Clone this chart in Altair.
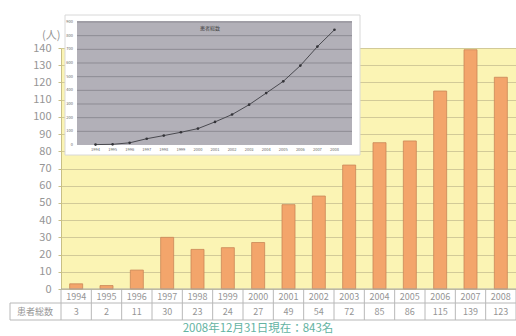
import altair as alt
import pandas as pd

years = ["1994", "1995", "1996", "1997", "1998", "1999", "2000", "2001",
         "2002", "2003", "2004", "2005", "2006", "2007", "2008"]
patients = [3, 2, 11, 30, 23, 24, 27, 49, 54, 72, 85, 86, 115, 139, 123]
cumulative = [3, 5, 16, 46, 69, 93, 120, 169, 223, 295, 380, 466, 581, 720, 843]
main_ticks = list(range(0, 141, 10))
inset_ticks = list(range(0, 901, 100))
inset_grid = list(range(100, 901, 100))
row_label = "患者総数"
inset_title = "患者総数"
caption = "2008年12月31日現在：843名"

FONT = "Noto Sans CJK JP"
TXT = "#959595"
LINE = "#b8b8b8"

df = pd.DataFrame({"year": years, "patients": patients})
dfi = pd.DataFrame({"year": years, "total": cumulative})
ticks_i = pd.DataFrame({"v": inset_ticks})
grid_i = pd.DataFrame({"v": inset_grid})
one = pd.DataFrame({"k": [0]})

# ---------------- main chart ----------------
xm = alt.X("year:N", scale=alt.Scale(paddingInner=0, paddingOuter=0), axis=None)
ym = alt.Y(
    "patients:Q",
    scale=alt.Scale(domain=[0, 140], nice=False),
    axis=alt.Axis(
        values=main_ticks, title="(人)", titleAngle=0, titleX=-1, titleY=-13,
        titleAlign="right", titleBaseline="middle", titleFontSize=11,
        titleColor=TXT, titleFontWeight="normal", titleFont=FONT,
        labelFontSize=11, labelColor=TXT, labelFont=FONT, labelPadding=7,
        tickSize=3, tickColor="#c8bf85", domainColor="#c8bf85",
        grid=True, gridColor="#d2ca98", gridWidth=1,
    ),
)

bars = alt.Chart(df).mark_bar(
    size=13, color="#f3a56b", stroke="#c98657", strokeWidth=0.8
).encode(x=xm, y=ym)

year_txt = alt.Chart(df).mark_text(fontSize=9, color=TXT, font=FONT).encode(
    x=alt.X("year:N"), y=alt.value(248.5), text="year:N")
val_txt = alt.Chart(df).mark_text(fontSize=9, color=TXT, font=FONT).encode(
    x=alt.X("year:N"), y=alt.value(264), text="patients:Q")

vsep = alt.Chart(df).mark_rule(color=LINE, strokeWidth=1).encode(
    x=alt.X("year:N", bandPosition=0), y=alt.value(241), y2=alt.value(272))
vend = alt.Chart(one).mark_rule(color=LINE).encode(
    x=alt.value(455), y=alt.value(241), y2=alt.value(272))
vleft = alt.Chart(one).mark_rule(color=LINE).encode(
    x=alt.value(-51), y=alt.value(255), y2=alt.value(272))
h0 = alt.Chart(one).mark_rule(color="#a9a9a9").encode(
    x=alt.value(0), x2=alt.value(455), y=alt.value(241))
h1 = alt.Chart(one).mark_rule(color=LINE).encode(
    x=alt.value(-51), x2=alt.value(455), y=alt.value(255))
h2 = alt.Chart(one).mark_rule(color=LINE).encode(
    x=alt.value(-51), x2=alt.value(455), y=alt.value(272))
lab = alt.Chart(one).mark_text(fontSize=9, color=TXT, font=FONT).encode(
    x=alt.value(-26), y=alt.value(264), text=alt.value(row_label))
cap = alt.Chart(one).mark_text(fontSize=11.5, color="#63b3a2", font=FONT).encode(
    x=alt.value(197), y=alt.value(280.5), text=alt.value(caption))

main = alt.layer(bars, vsep, vend, vleft, h0, h1, h2, year_txt, val_txt, lab, cap)

# ---------------- inset chart ----------------
xi_scale = alt.Scale(type="point", range=[26, 282])
yi_scale = alt.Scale(domain=[0, 900], range=[97, -26], nice=False)

box = alt.Chart(one).mark_rect(color="white", stroke="#d8d8d8", strokeWidth=1).encode(
    x=alt.value(4), x2=alt.value(299), y=alt.value(-33), y2=alt.value(107))
gray = alt.Chart(one).mark_rect(color="#b2b0b8").encode(
    x=alt.value(16), x2=alt.value(291), y=alt.value(-27), y2=alt.value(97))
grid = alt.Chart(grid_i).mark_rule(color="#8d8b93", strokeWidth=1).encode(
    y=alt.Y("v:Q", scale=yi_scale, axis=None), x=alt.value(16), x2=alt.value(291))
line = alt.Chart(dfi).mark_line(color="#4a4a50", strokeWidth=1).encode(
    x=alt.X("year:N", scale=xi_scale, axis=None),
    y=alt.Y("total:Q", scale=yi_scale, axis=None))
pts = alt.Chart(dfi).mark_point(filled=True, color="#333338", size=7, opacity=1).encode(
    x=alt.X("year:N", scale=xi_scale, axis=None),
    y=alt.Y("total:Q", scale=yi_scale, axis=None))
xlab = alt.Chart(dfi).mark_text(fontSize=4, color="#666", font=FONT).encode(
    x=alt.X("year:N", scale=xi_scale, axis=None), y=alt.value(102), text="year:N")
ylab = alt.Chart(ticks_i).mark_text(fontSize=4, color="#666", font=FONT, align="right").encode(
    y=alt.Y("v:Q", scale=yi_scale, axis=None), x=alt.value(12), text="v:Q")
ttl = alt.Chart(one).mark_text(fontSize=5, color="#444", font=FONT).encode(
    x=alt.value(149), y=alt.value(-20), text=alt.value(inset_title))

inset = alt.layer(box, gray, grid, line, pts, xlab, ylab, ttl)

chart = alt.layer(main, inset).resolve_scale(
    x="independent", y="independent"
).properties(
    width=455, height=241,
    autosize=alt.AutoSizeParams(type="none"),
    padding={"left": 61, "top": 48, "right": 0, "bottom": 47},
    background="white",
).configure_view(fill="#fbf4b4", stroke="transparent")

chart.save("out.html", embed_options={"renderer": "svg", "actions": False})
